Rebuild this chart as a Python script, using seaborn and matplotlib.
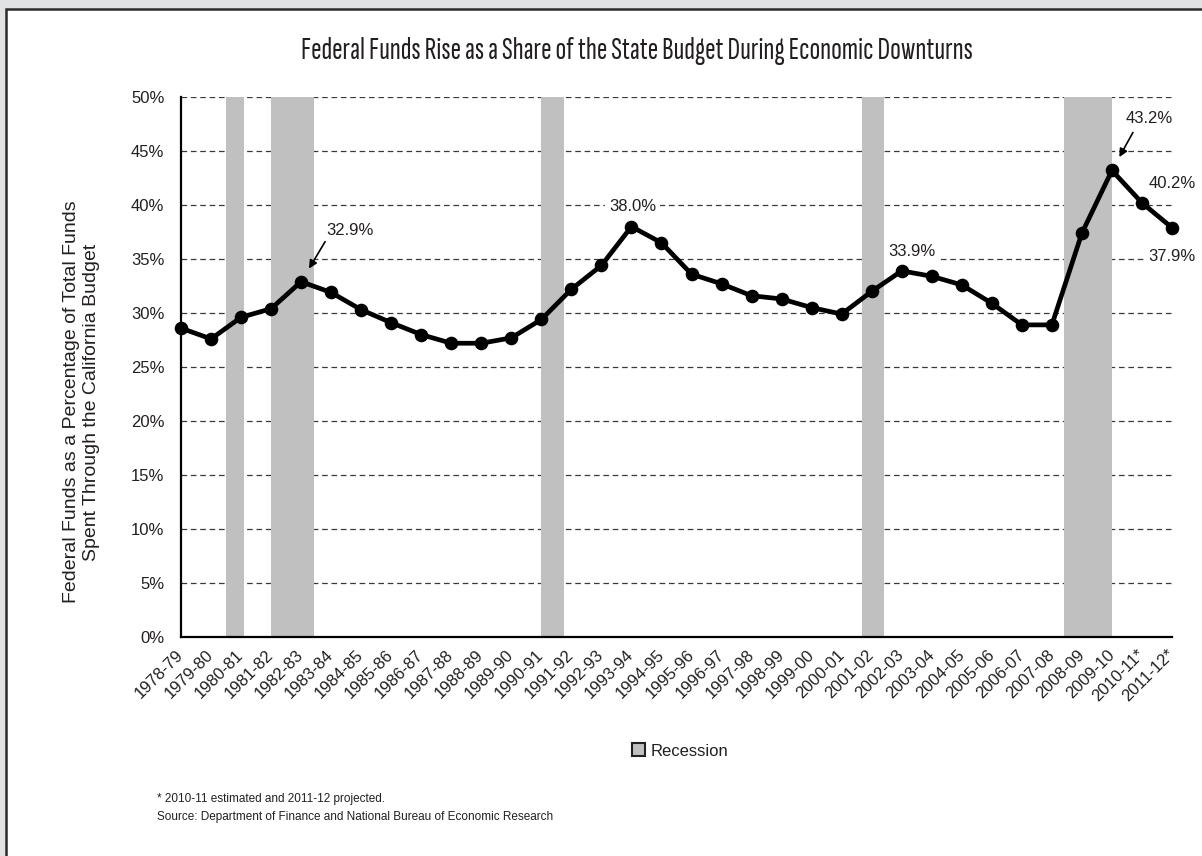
import matplotlib
matplotlib.use("Agg")
import numpy as np
import pandas as pd
import matplotlib.pyplot as plt
from matplotlib import font_manager
from matplotlib.font_manager import FontProperties
from matplotlib.patches import Rectangle, Patch
import seaborn as sns

# ---- data -------------------------------------------------------------
fiscal_years = [
    "1978-79", "1979-80", "1980-81", "1981-82", "1982-83", "1983-84",
    "1984-85", "1985-86", "1986-87", "1987-88", "1988-89", "1989-90",
    "1990-91", "1991-92", "1992-93", "1993-94", "1994-95", "1995-96",
    "1996-97", "1997-98", "1998-99", "1999-00", "2000-01", "2001-02",
    "2002-03", "2003-04", "2004-05", "2005-06", "2006-07", "2007-08",
    "2008-09", "2009-10", "2010-11*", "2011-12*",
]
federal_share = [
    28.6, 27.6, 29.6, 30.4, 32.9, 31.9, 30.3, 29.1, 28.0, 27.2,
    27.2, 27.7, 29.4, 32.2, 34.4, 38.0, 36.5, 33.6, 32.7, 31.6,
    31.3, 30.5, 29.9, 32.0, 33.9, 33.4, 32.6, 30.9, 28.9, 28.9,
    37.4, 43.2, 40.2, 37.9,
]
# NBER recession months (first and last month of each contraction)
recession_start = ["1980-01", "1981-07", "1990-07", "2001-03", "2007-12"]
recession_end = ["1980-07", "1982-11", "1991-03", "2001-11", "2009-06"]
y_ticks = [0, 5, 10, 15, 20, 25, 30, 35, 40, 45, 50]

title = "Federal Funds Rise as a Share of the State Budget During Economic Downturns"
y_label = "Federal Funds as a Percentage of Total Funds\nSpent Through the California Budget"
footnote = ("* 2010-11 estimated and 2011-12 projected.\n"
            "Source: Department of Finance and National Bureau of Economic Research")

# ---- styling ----------------------------------------------------------
sns.set_theme(style="white")
ttf = font_manager.fontManager.ttflist
names = {f.name for f in ttf}
body_font = "Liberation Sans" if "Liberation Sans" in names else "DejaVu Sans"
plt.rcParams["font.family"] = [body_font, "DejaVu Sans"]
TEXT = "#231f20"

W, H = 1202, 856
fig = plt.figure(figsize=(W / 100, H / 100), dpi=100)
fig.patch.set_facecolor("#e1e2e4")
# white page with a dark frame on the visible top/left edges
fig.patches.append(Rectangle((5.5 / W, -0.05), 1.2, (H - 8.5) / H + 0.05,
                             transform=fig.transFigure, facecolor="white",
                             edgecolor="#2b2b2b", linewidth=1.8, zorder=-10))

ax = fig.add_axes([181 / W, 219 / H, 991 / W, 540 / H])
ax.set_facecolor("none")

df = pd.DataFrame({"year": fiscal_years, "share": federal_share})
sns.lineplot(data=df, x="year", y="share", sort=False, ax=ax, color="black",
             linewidth=3.4, marker="o", markersize=9.8, markeredgecolor="black",
             markeredgewidth=0, zorder=4, clip_on=False)

# recession bands, converted from months to fiscal-year positions (FY starts July)
def month_pos(s, end=False):
    y, m = (int(v) for v in s.split("-"))
    return y + (m - 1) / 12 + (1 / 12 if end else 0) - (int(fiscal_years[0][:4]) + 0.5)

for s, e in zip(recession_start, recession_end):
    ax.axvspan(month_pos(s), month_pos(e, end=True), color="#c0c0c0", lw=0, zorder=1)

ax.set_xlim(0, len(fiscal_years) - 1)
ax.set_ylim(0, 50)
ax.set_yticks(y_ticks)
ax.set_yticklabels([f"{t}%" for t in y_ticks], fontsize=12, color=TEXT)
ax.set_xticks(range(len(fiscal_years)))
ax.set_xticklabels(fiscal_years, rotation=45, ha="right", va="center",
                   rotation_mode="anchor", fontsize=12, color=TEXT)
ax.tick_params(axis="y", direction="inout", length=6, width=1.2, color="black", pad=9)
ax.tick_params(axis="x", direction="out", length=5, width=1.2, color="black", pad=6)

ax.yaxis.grid(True, linestyle=(0, (4.5, 3)), color="#3a3a3a", linewidth=0.9)
ax.xaxis.grid(False)
ax.set_axisbelow(True)
for side in ("top", "right"):
    ax.spines[side].set_visible(False)
for side in ("left", "bottom"):
    ax.spines[side].set_color("black")
    ax.spines[side].set_linewidth(1.6)

ax.set_xlabel("")
ax.set_ylabel(y_label, fontsize=14, color=TEXT, linespacing=1.28, va="center")
ax.yaxis.set_label_coords((81.5 - 181) / 991, (637 - 402) / 540)

# value call-outs: (index, text offset px, arrow tail offset px or None, white box)
callouts = [
    (4, (49, 51), (24, 40), False),
    (15, (1, 20), None, True),
    (24, (10, 19), None, True),
    (31, (37, 52), (21, 38), False),
    (32, (30, 19), None, False),
    (33, (0, -29), None, True),
]
for i, txt_off, tail, boxed in callouts:
    v = federal_share[i]
    bbox = dict(boxstyle="square,pad=0.25", fc="white", ec="none") if boxed else None
    ax.annotate(f"{v:.1f}%", xy=(i, v), xytext=txt_off, textcoords="offset pixels",
                ha="center", va="center", fontsize=12, color=TEXT, bbox=bbox, zorder=3)
    if tail is not None:
        ax.annotate("", xy=(i, v), xytext=tail, textcoords="offset pixels",
                    arrowprops=dict(arrowstyle="-|>", color="black", lw=1.2,
                                    mutation_scale=12, shrinkA=0, shrinkB=11),
                    zorder=5)

# headline: narrowest proportional sans-serif face installed, fitted to its span
sans_families = ("Sans", "Roboto", "Lato", "Inter")
excluded = ("mono", "serif", "slab", "code", "math", "symbol", "cjk", "emoji")


def is_narrow_sans(f):
    tag = (f.name + " " + f.fname).lower()
    if any(x in tag for x in excluded):
        return False
    if not any(fam in f.name for fam in sans_families):
        return False
    narrow = ("Narrow" in f.name or "Condensed" in f.name or "condensed" in f.fname.lower()
              or f.stretch in ("condensed", "semi-condensed", "extra-condensed", "ultra-condensed"))
    return narrow and f.style == "normal" and f.weight in (400, "normal", "regular", "book")


narrow_faces = [f for f in ttf if is_narrow_sans(f)]
title_txt = fig.text(637 / W, 1 - 51 / H, title, ha="center", va="center",
                     fontsize=17, color=TEXT)
renderer = fig.canvas.get_renderer()


def text_width(s, props):
    w, _, _ = renderer.get_text_width_height_descent(s, props, ismath=False)
    return w


best = None
for face in narrow_faces:
    props = FontProperties(fname=face.fname, size=17)
    try:
        # skip fixed-pitch faces
        if text_width("iiiiiiii", props) > 0.6 * text_width("MMMMMMMM", props):
            continue
        w = text_width(title, props)
    except Exception:
        continue
    if w > 0 and (best is None or w < best[0]):
        best = (w, props)
if best is not None:
    w, props = best
    props.set_size(min(17 * 672 / w, 26))
    title_txt.set_fontproperties(props)
else:
    title_txt.set_fontproperties(FontProperties(family=body_font, size=15.5))

fig.legend(handles=[Patch(facecolor="#c0c0c0", edgecolor="#222222", linewidth=1.5,
                          label="Recession")],
           loc="center", bbox_to_anchor=(680 / W, 1 - 751 / H), frameon=False,
           fontsize=12, handlelength=0.8, handleheight=0.8, handletextpad=0.3,
           labelcolor=TEXT)

fig.text(157 / W, 1 - 808 / H, footnote, ha="left", va="center", fontsize=8.5,
         color=TEXT, linespacing=1.6)

fig.savefig("out.png", dpi=100, facecolor=fig.get_facecolor())
